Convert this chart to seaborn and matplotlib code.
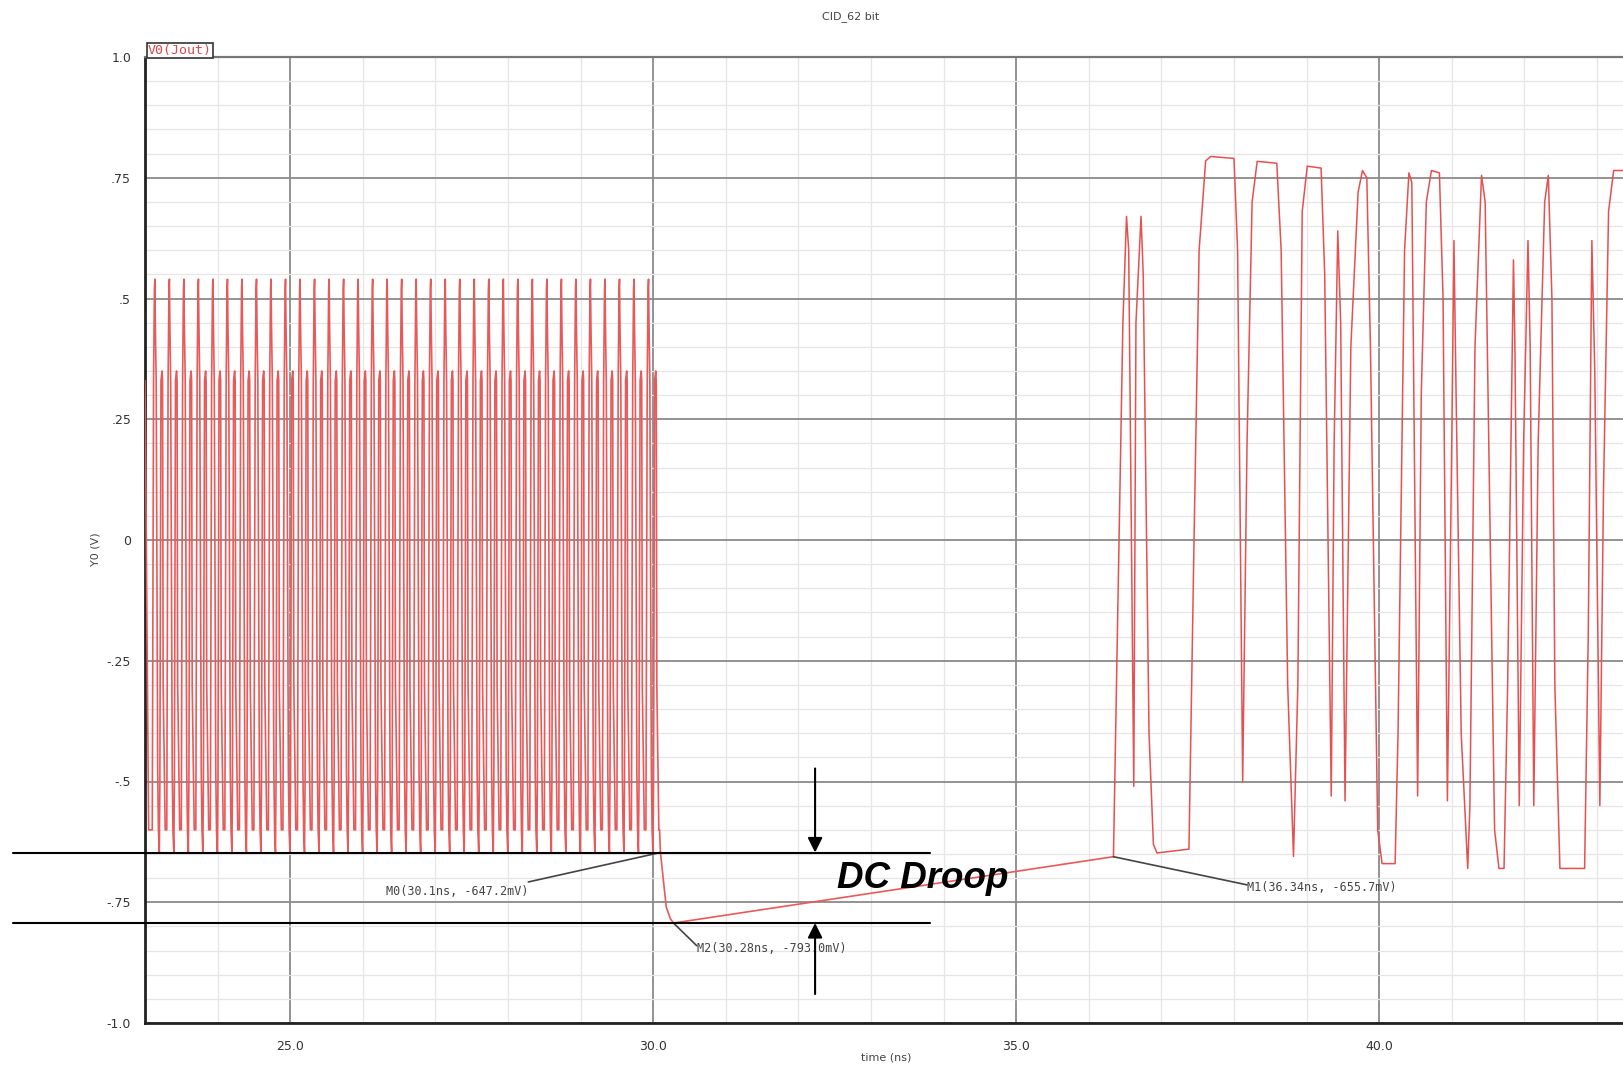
import numpy as np
import pandas as pd
import seaborn as sns
import matplotlib
matplotlib.use("Agg")
from matplotlib import pyplot as plt
from matplotlib.ticker import MultipleLocator, FixedLocator

# ---- data ----
title = "CID_62 bit"
trace_name = "V0(Jout)"

# burst section: one 0.2 ns cycle shape, repeated at the cycle starts seen in the plot
burst_cycle_starts = [23.10, 23.30, 23.50, 23.70, 23.90, 24.10, 24.30, 24.50, 24.70,
                      24.90, 25.10, 25.30, 25.50, 25.70, 25.90, 26.10, 26.30, 26.50,
                      26.70, 26.90, 27.10, 27.30, 27.50, 27.70, 27.90, 28.10, 28.30,
                      28.50, 28.70, 28.90, 29.10, 29.30, 29.50, 29.70, 29.90]
burst_offsets = [0.000, 0.018, 0.030, 0.036, 0.042, 0.054, 0.075, 0.085, 0.097, 0.105,
                 0.120, 0.135, 0.142, 0.150, 0.168, 0.178, 0.188]
burst_levels = [-0.60, 0.33, 0.52, 0.54, 0.45, 0.33, -0.48, -0.60, -0.647, -0.50,
                0.33, 0.35, 0.33, -0.30, -0.50, -0.60, -0.60]
lead_t = [22.95, 23.00, 23.05]
lead_v = [0.33, 0.33, -0.60]

# droop after the burst
droop_t = [30.10, 30.18, 30.24, 30.28, 36.34]
droop_v = [-0.647, -0.76, -0.785, -0.793, -0.6557]

# data pattern after the droop
tail_t = [36.34, 36.47, 36.52, 36.55, 36.62, 36.65, 36.72, 36.75, 36.83, 36.89, 36.94,
          37.38, 37.45, 37.52, 37.61, 37.68, 38.00, 38.05, 38.12, 38.18, 38.25,
          38.32, 38.59, 38.65, 38.74, 38.82, 38.88, 38.94, 39.01, 39.20, 39.25,
          39.34, 39.38, 39.43, 39.47, 39.53, 39.61, 39.71, 39.77, 39.83, 39.88,
          39.98, 40.04, 40.22, 40.26, 40.35, 40.41, 40.45, 40.53, 40.58, 40.65,
          40.72, 40.83, 40.88, 40.94, 41.00, 41.03, 41.06, 41.13, 41.22, 41.25,
          41.32, 41.41, 41.46, 41.53, 41.59, 41.65, 41.72, 41.77, 41.85, 41.87,
          41.93, 41.99, 42.05, 42.08, 42.13, 42.19, 42.28, 42.33, 42.38, 42.42,
          42.49, 42.83, 42.88, 42.93, 42.97, 43.04, 43.09, 43.16, 43.23, 43.90]
tail_v = [-0.6557, 0.45, 0.67, 0.60, -0.51, 0.45, 0.67, 0.55, -0.40, -0.63, -0.648,
          -0.64, 0.00, 0.60, 0.785, 0.794, 0.79, 0.60, -0.50, 0.20, 0.70,
          0.784, 0.78, 0.60, -0.30, -0.655, -0.30, 0.68, 0.774, 0.77, 0.55,
          -0.53, 0.20, 0.64, 0.45, -0.54, 0.40, 0.72, 0.765, 0.75, 0.40,
          -0.60, -0.67, -0.67, -0.40, 0.60, 0.76, 0.74, -0.53, 0.30, 0.70,
          0.765, 0.76, 0.50, -0.54, 0.20, 0.62, 0.30, -0.40, -0.68, -0.55,
          0.40, 0.755, 0.70, 0.00, -0.60, -0.68, -0.68, -0.30, 0.58, 0.40,
          -0.55, 0.20, 0.62, 0.40, -0.55, 0.20, 0.70, 0.755, 0.50, -0.30,
          -0.68, -0.68, -0.20, 0.62, 0.35, -0.55, 0.10, 0.68, 0.765, 0.765]

markers = [("M0(30.1ns, -647.2mV)", 30.10, -0.647, 28.28, -0.714, "right"),
           ("M2(30.28ns, -793.0mV)", 30.28, -0.793, 30.60, -0.846, "left"),
           ("M1(36.34ns, -655.7mV)", 36.34, -0.6557, 38.18, -0.720, "left")]

y_ticks = [-1.0, -0.75, -0.5, -0.25, 0.0, 0.25, 0.5, 0.75, 1.0]
y_tick_labels = ["-1.0", "-.75", "-.5", "-.25", "0", ".25", ".5", ".75", "1.0"]
x_ticks = [25.0, 30.0, 35.0, 40.0]
x_tick_labels = ["25.0", "30.0", "35.0", "40.0"]

# ---- assemble the traces ----
burst_t = list(lead_t)
burst_v = list(lead_v)
for start in burst_cycle_starts:
    for off, lev in zip(burst_offsets, burst_levels):
        burst_t.append(round(start + off, 4))
        burst_v.append(lev)
burst_t += droop_t
burst_v += droop_v
burst_df = pd.DataFrame({"time": burst_t, "v": burst_v})
tail_df = pd.DataFrame({"time": tail_t, "v": tail_v})

sns.set_style("white")
plt.rcParams["font.family"] = ["DejaVu Sans"]

fig = plt.figure(figsize=(16.24, 10.69), dpi=100)
ax = fig.add_axes([145 / 1624, 1 - 1023 / 1069, 1.02 - 145 / 1624, (1023 - 57) / 1069])

ax.xaxis.set_minor_locator(MultipleLocator(1))
ax.yaxis.set_minor_locator(MultipleLocator(0.05))
ax.grid(which="minor", color="#e6e6e6", lw=0.9)
ax.grid(which="major", color="#8a8a8a", lw=1.3)
ax.set_axisbelow(True)

sns.lineplot(data=burst_df, x="time", y="v", sort=False, estimator=None,
             color="#e85a5a", lw=1.2, ax=ax, zorder=3)
sns.lineplot(data=tail_df, x="time", y="v", sort=False, estimator=None,
             color="#e65050", lw=1.1, ax=ax, zorder=3)

ax.set_xlim(23.0, 43.82)
ax.set_ylim(-1.0, 1.0)
ax.xaxis.set_major_locator(FixedLocator(x_ticks))
ax.set_xticklabels(x_tick_labels)
ax.yaxis.set_major_locator(FixedLocator(y_ticks))
ax.set_yticklabels(y_tick_labels)
ax.tick_params(which="major", direction="out", length=7, width=1.2, color="#333333",
               labelsize=9, labelcolor="#333333", pad=3)
ax.tick_params(which="minor", direction="out", length=4, width=1.0, color="#333333")
ax.tick_params(axis="x", which="major", pad=5)
ax.set_xlabel("")
ax.set_ylabel("")

for side in ["left", "bottom"]:
    ax.spines[side].set_color("#222222")
    ax.spines[side].set_linewidth(2.0)
ax.spines["top"].set_color("#777777")
ax.spines["top"].set_linewidth(1.6)
ax.spines["right"].set_visible(False)

fig.text(851 / 1624, 1 - 16.5 / 1069, title, ha="center", va="center",
         fontsize=8, color="#444444")
fig.text(96 / 1624, 1 - 549 / 1069, "Y0 (V)", rotation=90, ha="center", va="center",
         fontsize=8, color="#444444")
fig.text(886 / 1624, 1 - 1058 / 1069, "time (ns)", ha="center", va="center",
         fontsize=8, color="#444444")

# trace name tab above the top-left corner
ax.text(0.002, 1.0, trace_name, transform=ax.transAxes, ha="left", va="bottom",
        fontsize=9.5, family="DejaVu Sans Mono", color="#e24848",
        bbox=dict(boxstyle="square,pad=0.1", fc="white", ec="#333333", lw=1.2))

# marker labels with leader lines
for label, px, py, tx, ty, ha in markers:
    ax.plot([px, tx], [py, ty + 0.006], color="#444444", lw=1.2, zorder=4)
    ax.text(tx, ty, label, ha=ha, va="top" if ha == "right" else "center",
            fontsize=8.5, family="DejaVu Sans Mono", color="#444444", zorder=5)

# DC droop callout
for level in [-0.647, -0.793]:
    ax.plot([21.18, 33.815], [level, level], color="black", lw=1.5, clip_on=False, zorder=6)
ax.annotate("", xy=(32.23, -0.647), xytext=(32.23, -0.473),
            arrowprops=dict(arrowstyle="-|>", color="black", lw=1.5, mutation_scale=22,
                            shrinkA=0, shrinkB=0), zorder=6)
ax.annotate("", xy=(32.23, -0.793), xytext=(32.23, -0.94),
            arrowprops=dict(arrowstyle="-|>", color="black", lw=1.5, mutation_scale=22,
                            shrinkA=0, shrinkB=0), zorder=6)
ax.text(32.53, -0.7205, "DC Droop", ha="left", va="baseline", fontsize=26.5,
        family="Liberation Sans", fontweight="bold", fontstyle="italic", color="black", zorder=7)

fig.savefig("out.png", dpi=100)
